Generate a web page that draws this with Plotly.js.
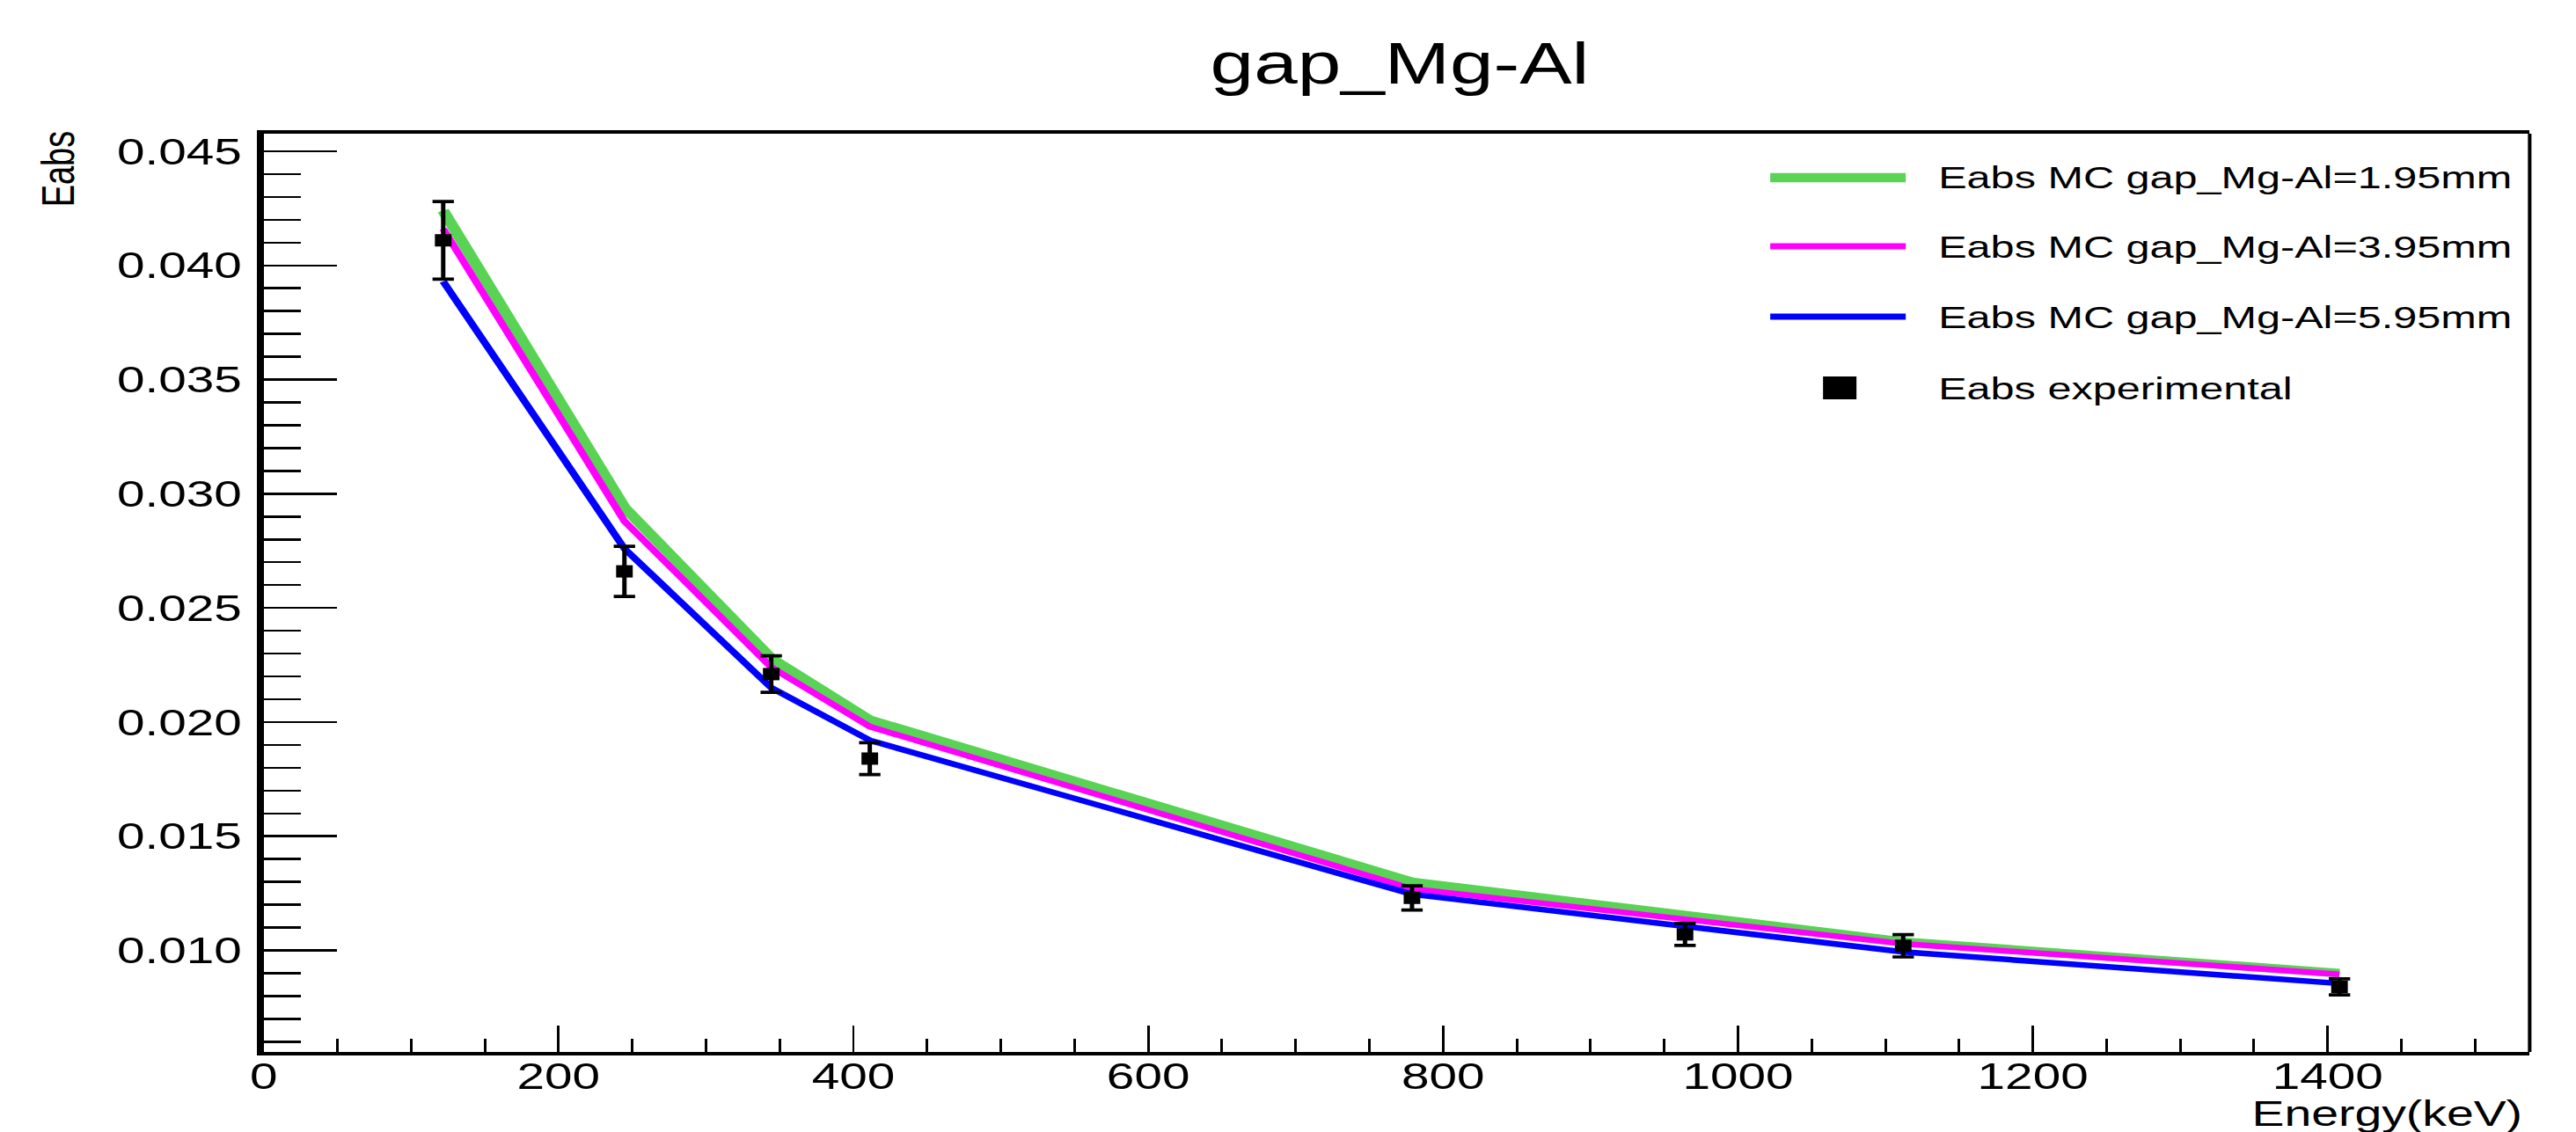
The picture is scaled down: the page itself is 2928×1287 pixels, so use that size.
<!DOCTYPE html>
<html>
<head>
<meta charset="utf-8">
<script src="https://cdn.plot.ly/plotly-3.0.1.min.js"></script>
<style>
  html, body { margin: 0; padding: 0; background: #ffffff; }
  #wrap { width: 2928px; height: 1287px; overflow: hidden; background: #ffffff; }
  #plot { width: 2169px; height: 1287px; transform-origin: 0 0; }
</style>
</head>
<body>
<div id="wrap"><div id="plot"></div></div>
<script>
// ---------------- data ----------------
const energies = [121.78, 244.70, 344.28, 411.12, 778.90, 964.08, 1112.08, 1408.01];
const mcGap195 = [0.0424, 0.0294, 0.0228, 0.0201, 0.0130, 0.01154, 0.01038, 0.00900];
const mcGap395 = [0.0416, 0.0288, 0.0224, 0.0198, 0.0127, 0.01136, 0.01029, 0.00895];
const mcGap595 = [0.0393, 0.0276, 0.0215, 0.0192, 0.01246, 0.01102, 0.00993, 0.00855];
const expEabs  = [0.0411, 0.0266, 0.0221, 0.0184, 0.0123, 0.0107, 0.0102, 0.0084];
const expErr   = [0.0017, 0.0011, 0.0008, 0.0007, 0.00053, 0.00048, 0.00049, 0.00035];

const seriesNames = [
  "Eabs MC gap_Mg-Al=1.95mm",
  "Eabs MC gap_Mg-Al=3.95mm",
  "Eabs MC gap_Mg-Al=5.95mm",
  "Eabs experimental"
];
const xTickVals = [0, 200, 400, 600, 800, 1000, 1200, 1400];
const xTickText = ["0", "200", "400", "600", "800", "1000", "1200", "1400"];
const yTickVals = [0.010, 0.015, 0.020, 0.025, 0.030, 0.035, 0.040, 0.045];
const yTickText = ["0.010", "0.015", "0.020", "0.025", "0.030", "0.035", "0.040", "0.045"];

// ---------------- geometry (the reference is horizontally stretched) ----------------
const FULLW = 2928, W = 2169, H = 1287;
const S = FULLW / W;
document.getElementById('plot').style.transform = 'scaleX(' + S + ')';
const ML = 300 / S, MR = (FULLW - 2875) / S, MT = 152, MB = H - 1196;
const PW = W - ML - MR, PH = H - MT - MB;
function px(xFull) { return (xFull / S - ML) / PW; }
function py(yFull) { return (H - MB - yFull) / PH; }

const FONT = "Liberation Sans, Arial, Helvetica, sans-serif";
const colors = ['#59d354', '#ff00ff', '#0000ff', '#000000'];
const lineWidths = [10, 6.5, 6.5];

const traces = [
  { x: energies, y: mcGap195, name: seriesNames[0], mode: 'lines', line: { color: colors[0], width: lineWidths[0] } },
  { x: energies, y: mcGap395, name: seriesNames[1], mode: 'lines', line: { color: colors[1], width: lineWidths[1] } },
  { x: energies, y: mcGap595, name: seriesNames[2], mode: 'lines', line: { color: colors[2], width: lineWidths[2] } },
  { x: energies, y: expEabs, name: seriesNames[3], mode: 'markers',
    marker: { symbol: 'square', size: 14, color: '#000000', line: { width: 0 } },
    error_y: { type: 'data', array: expErr, visible: true, color: '#000000', thickness: 3.7, width: 9 } }
];

// ---------------- legend drawn by hand (ROOT style) ----------------
const legendRows = [202, 280, 360, 441];
const shapes = [
  { type: 'line', xref: 'paper', yref: 'paper', x0: 1, x1: 1, y0: 0, y1: 1, line: { color: '#000', width: 3 } }
];
const annotations = [];
for (let i = 0; i < 3; i++) {
  shapes.push({ type: 'line', xref: 'paper', yref: 'paper',
    x0: px(2012), x1: px(2166), y0: py(legendRows[i]), y1: py(legendRows[i]),
    line: { color: colors[i], width: i === 0 ? 10.5 : 7 } });
}
shapes.push({ type: 'rect', xref: 'paper', yref: 'paper',
  x0: px(2072), x1: px(2110), y0: py(454), y1: py(428),
  fillcolor: '#000', line: { width: 0 } });
for (let i = 0; i < 4; i++) {
  annotations.push({ xref: 'paper', yref: 'paper', x: px(2200), y: py(legendRows[i]),
    xanchor: 'left', yanchor: 'middle', showarrow: false, text: seriesNames[i],
    font: { family: FONT, size: 36, color: '#000' } });
}
// axis titles (ROOT places them at the axis ends)
annotations.push({ xref: 'paper', yref: 'paper', x: px(2869), y: py(1266),
  xanchor: 'right', yanchor: 'middle', showarrow: false, text: 'Energy(keV)',
  font: { family: FONT, size: 41, color: '#000' } });
annotations.push({ xref: 'paper', yref: 'paper', x: px(67), y: py(192),
  xanchor: 'center', yanchor: 'middle', showarrow: false, text: 'Eabs', textangle: -90,
  font: { family: FONT, size: 38, color: '#000' } });

const layout = {
  width: W, height: H,
  paper_bgcolor: '#ffffff', plot_bgcolor: '#ffffff',
  margin: { l: ML, r: MR, t: MT, b: MB, pad: 0 },
  showlegend: false,
  title: { text: 'gap_Mg-Al', x: (1591 / S) / W, xref: 'container', xanchor: 'center',
           y: 1 - 72 / H, yref: 'container', yanchor: 'middle',
           font: { family: FONT, size: 66, color: '#000' } },
  xaxis: {
    range: [0, 1537], tickmode: 'array', tickvals: xTickVals, ticktext: xTickText,
    ticks: 'inside', ticklen: 30, tickwidth: 2.2, tickcolor: '#000',
    showline: true, linewidth: 4, linecolor: '#000', mirror: true,
    showgrid: false, zeroline: false, ticklabelstandoff: -12,
    tickfont: { family: FONT, size: 42, color: '#000' },
    minor: { tickmode: 'linear', tick0: 0, dtick: 50, ticks: 'inside', ticklen: 15, tickwidth: 2.2, tickcolor: '#000', showgrid: false }
  },
  yaxis: {
    range: [0.00555, 0.04577], tickmode: 'array', tickvals: yTickVals, ticktext: yTickText,
    ticks: 'inside', ticklen: 62, tickwidth: 2.5, tickcolor: '#000',
    showline: true, linewidth: 6, linecolor: '#000', mirror: false,
    showgrid: false, zeroline: false, ticklabelstandoff: 4,
    tickfont: { family: FONT, size: 42, color: '#000' },
    minor: { tickmode: 'linear', tick0: 0, dtick: 0.001, ticks: 'inside', ticklen: 31, tickwidth: 2.5, tickcolor: '#000', showgrid: false }
  },
  shapes: shapes,
  annotations: annotations,
  hovermode: false
};

Plotly.newPlot('plot', traces, layout, { staticPlot: true, displayModeBar: false });
</script>
</body>
</html>
